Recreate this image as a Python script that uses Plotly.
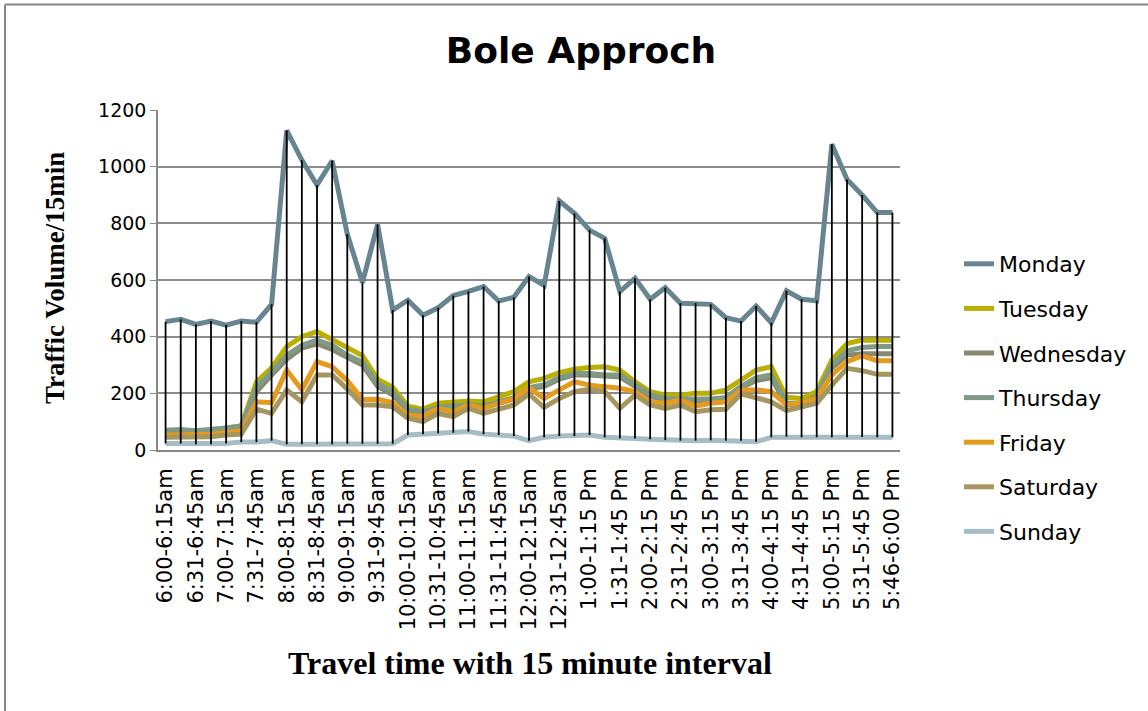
import plotly.graph_objects as go

# ---------------- data ----------------
tick_labels = [
    "6:00-6:15am", "6:31-6:45am", "7:00-7:15am", "7:31-7:45am", "8:00-8:15am",
    "8:31-8:45am", "9:00-9:15am", "9:31-9:45am", "10:00-10:15am", "10:31-10:45am",
    "11:00-11:15am", "11:31-11:45am", "12:00-12:15am", "12:31-12:45am",
    "1:00-1:15 Pm", "1:31-1:45 Pm", "2:00-2:15 Pm", "2:31-2:45 Pm", "3:00-3:15 Pm",
    "3:31-3:45 Pm", "4:00-4:15 Pm", "4:31-4:45 Pm", "5:00-5:15 Pm", "5:31-5:45 Pm",
    "5:46-6:00 Pm",
]
n_intervals = 49
interval_index = list(range(n_intervals))
tick_positions = list(range(0, n_intervals, 2))

monday = [453, 461, 443, 455, 441, 455, 451, 514, 1128, 1023, 935, 1021, 762, 591, 796, 494,
          529, 476, 502, 545, 560, 577, 526, 539, 612, 581, 879, 835, 776, 747, 559, 606,
          532, 573, 518, 518, 514, 467, 455, 508, 449, 562, 532, 527, 1079, 955, 900, 838, 838]
tuesday = [62, 66, 64, 70, 78, 85, 240, 290, 365, 400, 418, 390, 358, 333, 250, 222,
           155, 144, 165, 167, 173, 170, 186, 206, 241, 253, 273, 285, 291, 294, 282, 241,
           206, 194, 194, 200, 200, 212, 247, 282, 294, 186, 182, 206, 318, 376, 388, 388, 387]
wednesday = [58, 60, 58, 62, 65, 70, 205, 265, 320, 360, 375, 355, 325, 300, 225, 195,
             140, 130, 145, 150, 155, 150, 165, 180, 215, 225, 250, 265, 265, 260, 258, 225,
             190, 175, 178, 175, 175, 180, 220, 245, 255, 160, 160, 185, 290, 335, 340, 340, 340]
thursday = [70, 72, 68, 72, 78, 85, 220, 275, 335, 370, 388, 370, 335, 310, 235, 205,
            145, 135, 150, 155, 160, 155, 170, 185, 220, 230, 255, 270, 270, 265, 265, 230,
            195, 180, 180, 180, 180, 185, 225, 255, 265, 165, 165, 190, 300, 350, 362, 365, 365]
friday = [53, 53, 55, 56, 62, 68, 170, 167, 282, 212, 312, 294, 245, 178, 179, 167,
          124, 118, 147, 135, 159, 147, 165, 182, 220, 182, 212, 241, 229, 223, 218, 206,
          170, 165, 176, 155, 165, 170, 212, 212, 206, 159, 167, 182, 265, 312, 332, 315, 315]
saturday = [45, 45, 45, 47, 53, 56, 144, 129, 212, 170, 265, 265, 215, 159, 159, 153,
            112, 100, 129, 118, 147, 129, 144, 159, 198, 150, 182, 206, 214, 206, 147, 194,
            159, 147, 159, 135, 142, 144, 198, 182, 170, 139, 150, 165, 229, 288, 280, 267, 267]
sunday = [23, 23, 20, 20, 23, 28, 28, 33, 20, 20, 20, 20, 22, 22, 22, 22,
          53, 56, 59, 61, 65, 56, 53, 49, 33, 45, 49, 49, 53, 45, 41, 41,
          38, 35, 33, 33, 34, 33, 33, 29, 45, 47, 45, 45, 45, 45, 46, 45, 45]

series_names = ["Monday", "Tuesday", "Wednesday", "Thursday", "Friday", "Saturday", "Sunday"]
series_values = [monday, tuesday, wednesday, thursday, friday, saturday, sunday]
series_colors = ["#678591", "#B9B003", "#8A8870", "#7F9A87", "#E59B1C", "#A69760", "#A7BDC5"]

# ---------------- figure ----------------
W, H = 1148, 711
L, R, T, B = 158, 248, 110, 261
pw, ph = W - L - R, H - T - B

def px_x(x):
    return (x - L) / pw

def px_y(y):
    return (H - B - y) / ph

fig = go.Figure()

for name, vals, col in zip(series_names, series_values, series_colors):
    fig.add_trace(go.Scatter(
        x=interval_index, y=vals, name=name, mode="lines",
        line=dict(color=col, width=5), legendgroup=name,
    ))

# high-low lines
hx, hy = [], []
for i in interval_index:
    col_vals = [s[i] for s in series_values]
    hx += [i, i, None]
    hy += [max(col_vals), min(col_vals), None]
fig.add_trace(go.Scatter(x=hx, y=hy, mode="lines", line=dict(color="black", width=1.8),
                         showlegend=False, hoverinfo="skip"))

tick_font = dict(family="DejaVu Sans", size=21, color="#000000")

fig.update_layout(
    width=W, height=H,
    margin=dict(l=L, r=R, t=T, b=B, autoexpand=False),
    paper_bgcolor="white", plot_bgcolor="white",
    title=dict(text="<b>Bole Approch</b>", x=581 / W, xanchor="center",
               y=1 - 50 / H, yanchor="middle",
               font=dict(family="DejaVu Sans", size=36, color="black")),
    showlegend=True,
    legend=dict(x=px_x(959), y=px_y(243), xanchor="left", yanchor="top",
                font=dict(family="DejaVu Sans", size=22, color="black"),
                tracegroupgap=13, bgcolor="rgba(0,0,0,0)"),
    xaxis=dict(range=[-0.5, n_intervals - 0.5], tickmode="array", tickvals=tick_positions,
               ticktext=tick_labels, tickangle=-90, tickfont=tick_font,
               showgrid=False, zeroline=False, showline=True, linecolor="#888888",
               linewidth=2, ticks="outside", ticklen=8, tickcolor="rgba(0,0,0,0)",
               automargin=False),
    yaxis=dict(range=[0, 1200], tickvals=[0, 200, 400, 600, 800, 1000, 1200],
               tickfont=dict(family="DejaVu Sans", size=19, color="black"),
               showgrid=True, gridcolor="#8C8C8C", gridwidth=1.5, zeroline=False,
               showline=True, linecolor="#888888", linewidth=1.5,
               ticks="outside", ticklen=6, tickcolor="#888888", automargin=False),
    annotations=[
        dict(text="<b>Traffic Volume/15min</b>", xref="paper", yref="paper",
             x=px_x(55), y=px_y(278), xanchor="center", yanchor="middle",
             textangle=-90, showarrow=False,
             font=dict(family="Liberation Serif", size=27, color="black")),
        dict(text="<b>Travel time with 15 minute interval</b>", xref="paper", yref="paper",
             x=px_x(530), y=px_y(663), xanchor="center", yanchor="middle", showarrow=False,
             font=dict(family="Liberation Serif", size=32, color="black")),
    ],
    shapes=[
        dict(type="line", xref="paper", yref="paper", x0=px_x(5), x1=px_x(1148),
             y0=px_y(4.5), y1=px_y(4.5), line=dict(color="#888888", width=2)),
        dict(type="line", xref="paper", yref="paper", x0=px_x(5), x1=px_x(5),
             y0=px_y(4.5), y1=px_y(711), line=dict(color="#888888", width=2)),
    ],
)

fig.write_html("out.html", config={"displayModeBar": False},
               post_script="document.body.style.margin='0px';")
